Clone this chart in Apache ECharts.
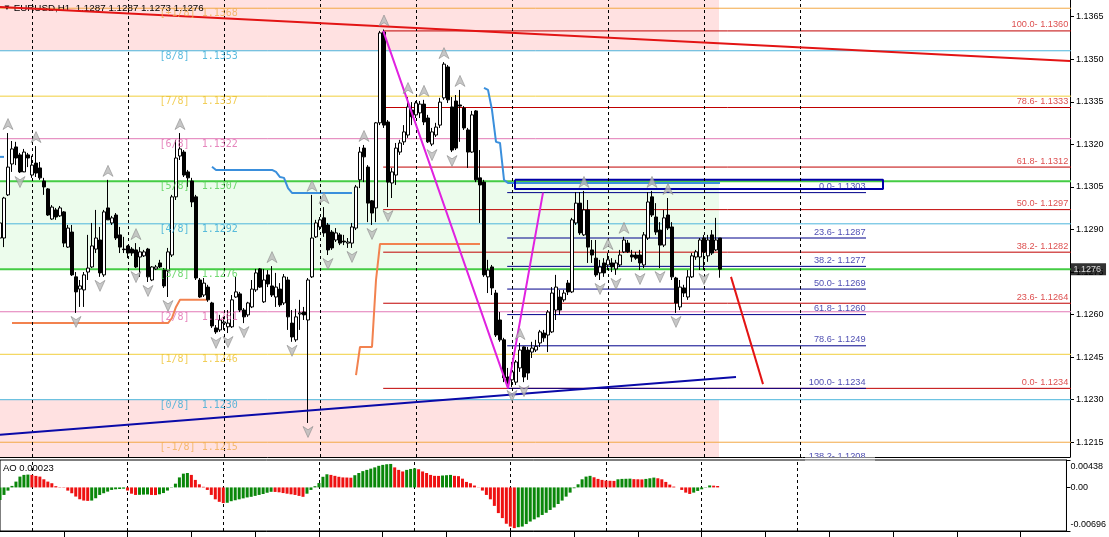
<!DOCTYPE html>
<html><head><meta charset="utf-8">
<script src="https://cdn.jsdelivr.net/npm/echarts@6/dist/echarts.min.js"></script>
<style>html,body{margin:0;padding:0;background:#fff}#c{width:1109px;height:537px}</style>
</head><body><div id="c"></div>
<script>
// ---------------- DATA ----------------
const symbolName = 'EURUSD,H1';
// one row per H1 bar: [open, close, low, high]
const candles = [
[1.12870,1.12923,1.12845,1.12941],[1.12870,1.13011,1.12838,1.13015],[1.13022,1.13120,1.13018,1.13240],[1.13131,1.13184,1.13103,1.13212],
[1.13191,1.13152,1.13127,1.13209],[1.13163,1.13103,1.13099,1.13170],[1.13103,1.13173,1.13105,1.13184],[1.13163,1.13152,1.13120,1.13170],
[1.13092,1.13127,1.13082,1.13160],[1.13134,1.13099,1.13085,1.13194],[1.13117,1.13082,1.13075,1.13138],[1.13071,1.13050,1.13022,1.13082],
[1.13043,1.12951,1.12948,1.13046],[1.12937,1.12979,1.12934,1.12986],[1.12969,1.12944,1.12934,1.12976],[1.12948,1.12976,1.12944,1.12983],
[1.12962,1.12852,1.12838,1.12965],[1.12838,1.12905,1.12835,1.12916],[1.12891,1.12740,1.12736,1.12916],[1.12733,1.12680,1.12606,1.12750],
[1.12690,1.12701,1.12627,1.12722],[1.12687,1.12740,1.12627,1.12750],[1.12750,1.12764,1.12722,1.12881],[1.12768,1.12842,1.12764,1.12923],
[1.12831,1.12870,1.12817,1.12969],[1.12863,1.12747,1.12733,1.12909],[1.12740,1.12962,1.12733,1.12969],[1.12976,1.12934,1.12934,1.13075],
[1.12923,1.12941,1.12916,1.12948],[1.12951,1.12870,1.12863,1.12958],[1.12881,1.12838,1.12817,1.12909],[1.12831,1.12829,1.12817,1.12874],
[1.12842,1.12817,1.12799,1.12845],[1.12831,1.12817,1.12807,1.12838],[1.12828,1.12768,1.12764,1.12852],[1.12803,1.12821,1.12733,1.12838],
[1.12807,1.12821,1.12803,1.12828],[1.12831,1.12733,1.12715,1.12835],[1.12722,1.12768,1.12718,1.12771],[1.12761,1.12768,1.12757,1.12775],
[1.12782,1.12768,1.12764,1.12793],[1.12757,1.12701,1.12694,1.12764],[1.12754,1.12821,1.12662,1.12835],[1.12810,1.13015,1.12803,1.13022],
[1.13015,1.13152,1.13004,1.13216],[1.13159,1.13184,1.13145,1.13240],[1.13173,1.13092,1.13085,1.13180],[1.13103,1.13082,1.13050,1.13110],
[1.13071,1.12997,1.12979,1.13082],[1.13015,1.12729,1.12722,1.13022],[1.12722,1.12662,1.12659,1.12729],[1.12669,1.12711,1.12662,1.12729],
[1.12697,1.12652,1.12645,1.12705],[1.12641,1.12560,1.12553,1.12645],[1.12553,1.12539,1.12532,1.12563],[1.12546,1.12581,1.12539,1.12599],
[1.12570,1.12574,1.12546,1.12592],[1.12557,1.12570,1.12535,1.12616],[1.12557,1.12652,1.12553,1.12669],[1.12662,1.12680,1.12659,1.12733],
[1.12673,1.12616,1.12609,1.12680],[1.12616,1.12592,1.12570,1.12623],[1.12599,1.12641,1.12592,1.12645],[1.12627,1.12690,1.12623,1.12722],
[1.12687,1.12747,1.12680,1.12761],[1.12761,1.12697,1.12694,1.12764],[1.12645,1.12722,1.12641,1.12761],[1.12740,1.12708,1.12697,1.12757],
[1.12701,1.12669,1.12662,1.12771],[1.12662,1.12697,1.12627,1.12747],[1.12690,1.12634,1.12627,1.12711],[1.12641,1.12733,1.12634,1.12743],
[1.12722,1.12592,1.12546,1.12733],[1.12570,1.12521,1.12504,1.12616],[1.12511,1.12592,1.12504,1.12620],[1.12602,1.12606,1.12546,1.12652],
[1.12609,1.12599,1.12581,1.12627],[1.12581,1.12722,1.12218,1.12729],[1.12733,1.12870,1.12729,1.13022],[1.12874,1.12923,1.12870,1.12934],
[1.12909,1.12934,1.12898,1.12944],[1.12941,1.12888,1.12874,1.12979],[1.12916,1.12828,1.12810,1.12923],[1.12891,1.12835,1.12828,1.12898],
[1.12863,1.12888,1.12856,1.12905],[1.12881,1.12852,1.12845,1.12888],[1.12859,1.12856,1.12845,1.12881],[1.12852,1.12856,1.12835,1.12870],
[1.12852,1.12909,1.12835,1.12923],[1.12905,1.13050,1.12898,1.13057],[1.13075,1.13173,1.13046,1.13191],[1.13187,1.13156,1.13067,1.13198],
[1.13120,1.12993,1.12926,1.13127],[1.13001,1.12958,1.12916,1.13004],[1.12976,1.13276,1.12926,1.13279],[1.13276,1.13593,1.13268,1.13600],
[1.13596,1.13268,1.13258,1.13605],[1.13279,1.13067,1.12979,1.13286],[1.13064,1.13103,1.13011,1.13117],[1.13092,1.13187,1.13057,1.13205],
[1.13173,1.13205,1.13163,1.13216],[1.13209,1.13244,1.13198,1.13268],[1.13233,1.13332,1.13223,1.13367],[1.13321,1.13297,1.13268,1.13349],
[1.13304,1.13346,1.13293,1.13353],[1.13311,1.13342,1.13293,1.13353],[1.13342,1.13279,1.13268,1.13357],[1.13293,1.13209,1.13205,1.13304],
[1.13201,1.13244,1.13194,1.13258],[1.13233,1.13261,1.13226,1.13276],[1.13268,1.13349,1.13258,1.13364],[1.13364,1.13483,1.13357,1.13490],
[1.13473,1.13357,1.13346,1.13480],[1.13332,1.13180,1.13173,1.13367],[1.13353,1.13187,1.13180,1.13374],[1.13339,1.13335,1.13209,1.13392],
[1.13328,1.13258,1.13251,1.13335],[1.13251,1.13173,1.13117,1.13258],[1.13173,1.13304,1.13170,1.13318],[1.13318,1.13075,1.13067,1.13321],
[1.13082,1.13057,1.12923,1.13180],[1.13067,1.12740,1.12733,1.13075],[1.12733,1.12757,1.12676,1.12793],[1.12768,1.12694,1.12669,1.12775],
[1.12676,1.12528,1.12521,1.12687],[1.12581,1.12511,1.12504,1.12609],[1.12511,1.12377,1.12362,1.12518],[1.12380,1.12359,1.12340,1.12412],
[1.12370,1.12398,1.12345,1.12433],[1.12362,1.12433,1.12352,1.12440],[1.12412,1.12475,1.12398,1.12500],[1.12486,1.12380,1.12362,1.12488],
[1.12475,1.12394,1.12370,1.12486],[1.12468,1.12482,1.12447,1.12504],[1.12475,1.12488,1.12468,1.12511],[1.12500,1.12539,1.12486,1.12546],
[1.12535,1.12518,1.12504,1.12546],[1.12528,1.12609,1.12468,1.12616],[1.12539,1.12676,1.12535,1.12697],[1.12616,1.12697,1.12581,1.12740],
[1.12662,1.12616,1.12599,1.12687],[1.12652,1.12676,1.12645,1.12687],[1.12711,1.12680,1.12669,1.12722],[1.12680,1.12934,1.12676,1.12941],
[1.12923,1.12993,1.12916,1.13032],[1.12993,1.12888,1.12881,1.13032],[1.12881,1.12969,1.12877,1.13036],[1.12969,1.12838,1.12782,1.13004],
[1.12828,1.12810,1.12782,1.12863],[1.12799,1.12740,1.12733,1.12863],[1.12747,1.12768,1.12722,1.12793],[1.12782,1.12747,1.12733,1.12799],
[1.12775,1.12793,1.12757,1.12817],[1.12782,1.12768,1.12750,1.12799],[1.12761,1.12782,1.12740,1.12793],[1.12775,1.12810,1.12768,1.12828],
[1.12821,1.12863,1.12817,1.12874],[1.12852,1.12821,1.12817,1.12863],[1.12810,1.12803,1.12786,1.12828],[1.12810,1.12799,1.12793,1.12821],
[1.12810,1.12782,1.12757,1.12828],[1.12775,1.12881,1.12764,1.12891],[1.12870,1.12997,1.12863,1.13032],[1.13015,1.12951,1.12944,1.13036],
[1.12944,1.12891,1.12881,1.12993],[1.12898,1.12845,1.12764,1.12926],[1.12845,1.12941,1.12838,1.12969],[1.12951,1.12905,1.12898,1.13011],
[1.12909,1.12733,1.12722,1.12926],[1.12729,1.12641,1.12606,1.12733],[1.12627,1.12697,1.12616,1.12722],[1.12694,1.12676,1.12662,1.12705],
[1.12662,1.12733,1.12652,1.12757],[1.12733,1.12807,1.12729,1.12817],[1.12803,1.12821,1.12793,1.12828],[1.12803,1.12863,1.12757,1.12870],
[1.12870,1.12821,1.12757,1.12881],[1.12807,1.12863,1.12786,1.12881],[1.12881,1.12817,1.12810,1.12898],[1.12828,1.12863,1.12824,1.12941],
[1.12870,1.12760,1.12730,1.12870]
];
// Awesome Oscillator, one value per bar
const ao = [
-0.00200,-0.00120,-0.00051,0.00024,0.00093,0.00173,0.00200,0.00205,0.00200,0.00184,
0.00173,0.00130,0.00093,0.00067,0.00020,0.00005,-0.00005,-0.00051,-0.00093,-0.00146,
-0.00189,-0.00210,-0.00215,-0.00210,-0.00173,-0.00120,-0.00093,-0.00067,-0.00040,-0.00030,
-0.00025,-0.00020,-0.00050,-0.00100,-0.00120,-0.00118,-0.00115,-0.00112,-0.00120,-0.00122,
-0.00110,-0.00090,-0.00050,0.00005,0.00060,0.00160,0.00220,0.00230,0.00200,0.00120,
0.00050,0.00010,-0.00040,-0.00120,-0.00190,-0.00230,-0.00250,-0.00245,-0.00220,-0.00205,
-0.00190,-0.00175,-0.00160,-0.00150,-0.00135,-0.00120,-0.00105,-0.00085,-0.00070,-0.00072,
-0.00078,-0.00090,-0.00100,-0.00110,-0.00120,-0.00135,-0.00150,-0.00100,-0.00040,0.00020,
0.00070,0.00170,0.00210,0.00200,0.00185,0.00170,0.00160,0.00158,0.00155,0.00195,
0.00230,0.00260,0.00280,0.00300,0.00320,0.00345,0.00360,0.00370,0.00375,0.00320,
0.00280,0.00255,0.00280,0.00295,0.00305,0.00290,0.00255,0.00230,0.00200,0.00185,
0.00184,0.00190,0.00195,0.00200,0.00185,0.00180,0.00140,0.00088,0.00067,0.00030,
0.00003,-0.00050,-0.00120,-0.00190,-0.00295,-0.00410,-0.00490,-0.00580,-0.00625,-0.00650,
-0.00635,-0.00625,-0.00585,-0.00545,-0.00510,-0.00478,-0.00440,-0.00405,-0.00360,-0.00320,
-0.00265,-0.00210,-0.00147,-0.00083,-0.00013,0.00050,0.00130,0.00173,0.00185,0.00162,
0.00136,0.00120,0.00109,0.00106,0.00104,0.00130,0.00136,0.00138,0.00140,0.00132,
0.00130,0.00128,0.00136,0.00146,0.00157,0.00146,0.00130,0.00088,0.00045,0.00013,
0.00000,-0.00040,-0.00083,-0.00104,-0.00083,-0.00056,-0.00030,-0.00005,0.00032,0.00028,
0.00023
];
const murreyNames  = ['[+1/8]','[8/8]','[7/8]','[6/8]','[5/8]','[4/8]','[3/8]','[2/8]','[1/8]','[0/8]','[-1/8]'];
const murreyValues = [1.1368,1.1353,1.1337,1.1322,1.1307,1.1292,1.1276,1.1261,1.1246,1.1230,1.1215];
const fibRedNames  = ['100.0','78.6','61.8','50.0','38.2','23.6','0.0'];
const fibRedValues = [1.1360,1.1333,1.1312,1.1297,1.1282,1.1264,1.1234];
const fibBlueNames  = ['0.0','23.6','38.2','50.0','61.8','78.6','100.0','138.2'];
const fibBlueValues = [1.1303,1.1287,1.1277,1.1269,1.1260,1.1249,1.1234,1.1208];
const priceTicks = [1.1215,1.1230,1.1245,1.1260,1.1275,1.1290,1.1305,1.1320,1.1335,1.1350,1.1365];
const aoTicks = [0.00438,0,-0.00696];
const dayLines = [8,32,56,80,104,128,152,176,200];
const hourTicks = [16,32,48,64,80,96,112,128,144,160,176,192,208,224,240,256];
const upFractals = [2,9,27,34,45,68,78,81,91,96,102,106,111,115,130,146,152,156,163,167];
const downFractals = [5,19,25,34,37,42,54,57,61,73,77,82,88,93,97,108,113,128,131,150,154,160,165,169,176];
// [bar, price] anchors of drawn objects
const trendRed = [[0,1.13684],[267.5,1.13494]];
const trendBlue = [[0,1.12176],[184,1.12380]];
const forecastRed = [[182.75,1.12733],[190.75,1.12355]];
const zigzag = [[95.8,1.1360],[127,1.1234],[135.75,1.1303]];
const fibRedSpan = [95.8,270];
const fibBlueSpan = [126.8,216.5];
const boxSpan = [[128.75,1.13075],[220.75,1.13043]];
const zoneEndBar = 179.75;
// stepped trailing lines: start bar + values
const blueTrail = [
 {from:0, values:[1.13156,1.13156]},
 {from:53, values:[1.13121,1.13110,1.13110,1.13110,1.13110,1.13110,1.13110,1.13110,1.13110,1.13110,1.13110,1.13110,1.13110,1.13110,1.13110,1.13110,
   1.13103,1.13085,1.13082,1.13046,1.13029,1.13029,1.13029,1.13029,1.13029,1.13029,1.13029,1.13029,1.13029,1.13029,1.13029,1.13029,1.13029,1.13029,1.13029,1.13029]},
 {from:121, values:[1.13399,1.13392,1.13321,1.13209,1.13205,1.13075,
   1.13064,1.13064,1.13064,1.13064,1.13064,1.13064,1.13064,1.13064,1.13064,1.13064,1.13064,1.13064,1.13064,1.13064,1.13064,1.13064,1.13064,1.13064,
   1.13064,1.13064,1.13064,1.13064,1.13064,1.13064,1.13064,1.13064,1.13064,1.13064,1.13064,1.13064,1.13064,1.13064,1.13064,1.13064,1.13064,1.13064,
   1.13064,1.13064,1.13064,1.13064,1.13064,1.13064,1.13064,1.13064,1.13064,1.13064,1.13064,1.13064,1.13064,1.13064,1.13064,1.13064,1.13064,1.13064]}
];
const orangeTrail = [
 {from:3, values:[1.12570,1.12570,1.12570,1.12570,1.12570,1.12570,1.12570,1.12570,1.12570,1.12570,1.12570,1.12570,1.12570,1.12570,1.12570,1.12570,
   1.12570,1.12570,1.12570,1.12570,1.12570,1.12570,1.12570,1.12570,1.12570,1.12570,1.12570,1.12570,1.12570,1.12570,1.12570,1.12570,1.12570,1.12570,
   1.12570,1.12570,1.12570,1.12570,1.12570,1.12570,1.12588,1.12627,1.12652,1.12652,1.12652,1.12652,1.12652,1.12652,1.12652,1.12652]},
 {from:89, values:[1.12387,1.12486,1.12486,1.12486,1.12486,1.12722,1.12849,1.12849,1.12849,1.12849,1.12849,1.12849,1.12849,1.12849,1.12849,1.12849,
   1.12849,1.12849,1.12849,1.12849,1.12849,1.12849,1.12849,1.12849,1.12849,1.12849,1.12849,1.12849,1.12849,1.12849,1.12849,1.12849]}
];

// ---------------- STYLE ----------------
const FONT = 'Liberation Sans';
const yMin = 1.12098, yMax = 1.13709, xMax = 267.5;
const aoMin = -0.00696, aoMax = 0.00438;
const murreyLine = ['#f3a845','#4cb5dc','#f1cf3d','#e279b6','#44cc44','#4cb5dc','#44cc44','#e279b6','#f1cf3d','#4cb5dc','#f3a845'];
const murreyText = ['#f2ae52','#33aad6','#edc22e','#e068ac','#4fd04f','#33aad6','#4fd04f','#e068ac','#edc22e','#33aad6','#f2ae52'];
const murreyWidth = [1,1,1,1,2,1,2,1,1,1,1];

const series = [];
const base = {silent:true, animation:false};
// zones
series.push(Object.assign({type:'line', xAxisIndex:0, yAxisIndex:0, data:[], z:0,
  markArea:{silent:true, animation:false, data:[
    [{coord:[-2, yMax], itemStyle:{color:'#ffe1e1'}}, {coord:[zoneEndBar, murreyValues[1]]}],
    [{coord:[-2, murreyValues[4]], itemStyle:{color:'#ecfcec'}}, {coord:[zoneEndBar, murreyValues[6]]}],
    [{coord:[-2, murreyValues[9]], itemStyle:{color:'#ffe1e1'}}, {coord:[zoneEndBar, yMin]}]
  ]}}, base));
// day separators
[[0,0],[1,1]].forEach(([xi, yi]) => series.push(Object.assign({type:'line', xAxisIndex:xi, yAxisIndex:yi, data:[], z:1,
  markLine:{silent:true, animation:false, symbol:['none','none'], label:{show:false},
    lineStyle:{color:'#000', type:[3,3], width:1}, data: dayLines.map(x => ({xAxis:x}))}}, base)));

function seg(points, color, width, z) {
  return Object.assign({type:'line', xAxisIndex:0, yAxisIndex:0, data:points, symbol:'none', z:z,
    lineStyle:{color:color, width:width}}, base);
}
murreyValues.forEach((v,k) => series.push(seg([[-2,v],[270,v]], murreyLine[k], murreyWidth[k], 2)));
fibRedValues.forEach(v => series.push(seg([[fibRedSpan[0],v],[fibRedSpan[1],v]], '#c00000', 1, 3)));
fibBlueValues.forEach(v => series.push(seg([[fibBlueSpan[0],v],[fibBlueSpan[1],v]], '#00008b', 1, 3)));
blueTrail.forEach(s => series.push(seg(s.values.map((v,k)=>[s.from+k, v]), '#3a8fdc', 2, 4)));
orangeTrail.forEach(s => series.push(seg(s.values.map((v,k)=>[s.from+k, v]), '#f2824f', 2, 4)));
series.push(seg([[boxSpan[0][0],boxSpan[0][1]],[boxSpan[1][0],boxSpan[0][1]],[boxSpan[1][0],boxSpan[1][1]],[boxSpan[0][0],boxSpan[1][1]],[boxSpan[0][0],boxSpan[0][1]]], '#0000a8', 2, 4));

series.push(Object.assign({type:'candlestick', xAxisIndex:0, yAxisIndex:0, z:5, barWidth:3,
  dimensions:['x','open','close','lowest','highest'], encode:{x:'x', y:['open','close','lowest','highest']},
  data: candles.map((c,i)=>[i, c[0], c[1], c[2], c[3]]),
  itemStyle:{color:'#ffffff', color0:'#000000', borderColor:'#000000', borderColor0:'#000000', borderWidth:1}}, base));

series.push(seg(trendRed, '#e31414', 2, 6));
series.push(seg(trendBlue, '#0a0aa8', 2, 6));
series.push(seg(forecastRed, '#e31414', 2, 6));
series.push(seg(zigzag, '#e022e0', 2, 6));

const upPath = 'path://M5,0 L10,10 L5,7 L0,10 Z';
const dnPath = 'path://M0,0 L5,3 L10,0 L5,10 Z';
series.push(Object.assign({type:'scatter', xAxisIndex:0, yAxisIndex:0, z:7, symbol:upPath, symbolSize:[10,11], symbolOffset:[0,-9],
  itemStyle:{color:'#b9b9b9', borderColor:'#858585', borderWidth:0.7}, data: upFractals.map(i=>[i, candles[i][3]])}, base));
series.push(Object.assign({type:'scatter', xAxisIndex:0, yAxisIndex:0, z:7, symbol:dnPath, symbolSize:[10,11], symbolOffset:[0,9],
  itemStyle:{color:'#b9b9b9', borderColor:'#858585', borderWidth:0.7}, data: downFractals.map(i=>[i, candles[i][2]])}, base));

function textSeries(items, labelBase, clip) {
  return Object.assign({type:'scatter', xAxisIndex:0, yAxisIndex:0, z:8, symbolSize:1, clip: clip,
    itemStyle:{color:'rgba(0,0,0,0)'}, label:Object.assign({show:true}, labelBase), data: items}, base);
}
series.push(textSeries(murreyValues.map((v,k)=>({value:[40,v], label:{color:murreyText[k], formatter: murreyNames[k].padEnd(7) + v.toFixed(4)}})),
  {position:[0,1], align:'left', verticalAlign:'top', fontFamily:'DejaVu Sans Mono', fontSize:10}, true));
series.push(textSeries(fibRedValues.map((v,k)=>({value:[267.2,v], label:{formatter: fibRedNames[k] + '- ' + v.toFixed(4)}})),
  {position:[0,-1], align:'right', verticalAlign:'bottom', fontFamily:FONT, fontSize:9.2, color:'#d42222'}, true));
series.push(textSeries(fibBlueValues.map((v,k)=>({value:[fibBlueSpan[1],v], label:{formatter: fibBlueNames[k] + '- ' + v.toFixed(4)}})),
  {position:[0,-1], align:'right', verticalAlign:'bottom', fontFamily:FONT, fontSize:9.2, color:'#1a1a9c'}, false));
const last = candles[candles.length-1];
series.push(textSeries([{value:[xMax, last[1]]}],
  {position:'right', distance:0, formatter: last[1].toFixed(4), backgroundColor:'#000', color:'#fff', padding:[2,5,1,3], fontFamily:FONT, fontSize:9}, false));

// AO histogram
series.push(Object.assign({type:'bar', xAxisIndex:1, yAxisIndex:1, z:5, barWidth:3,
  data: ao.map((v,i)=>({value:[i,v], itemStyle:{color: (i===0 || v>ao[i-1]) ? '#0a870a' : '#ee1111'}}))}, base));

const option = {
  animation:false,
  textStyle:{fontFamily:FONT},
  title:[
    {left:3, top:3, padding:0, text:'{t|▼} ' + symbolName + '  ' + [last[0], last[3], last[2], last[1]].map(v=>v.toFixed(4)).join(' '),
     textStyle:{fontSize:9.8, fontFamily:FONT, fontWeight:'normal', color:'#000', rich:{t:{fontSize:8, color:'#000'}}}},
    {left:3, top:463, padding:0, text:'AO ' + ao[ao.length-1].toFixed(5),
     textStyle:{fontSize:9.5, fontFamily:FONT, fontWeight:'normal', color:'#000'}}
  ],
  grid:[
    {left:0, top:0, width:1070, height:457, containLabel:false},
    {left:0, top:460, width:1070, height:71, containLabel:false, show:true, borderColor:'#000', borderWidth:1, backgroundColor:'rgba(0,0,0,0)'}
  ],
  xAxis:[
    {gridIndex:0, type:'value', min:0, max:xMax, axisLine:{show:true, onZero:false, lineStyle:{color:'#000'}}, axisTick:{show:false}, axisLabel:{show:false}, splitLine:{show:false}},
    {gridIndex:1, type:'value', min:0, max:xMax, position:'bottom', axisLine:{show:true, onZero:false, lineStyle:{color:'#000'}},
     axisTick:{show:true, customValues:hourTicks, length:6, inside:false, lineStyle:{color:'#000'}}, axisLabel:{show:false}, splitLine:{show:false}}
  ],
  yAxis:[
    {gridIndex:0, type:'value', position:'right', min:yMin, max:yMax, scale:true,
     axisLine:{show:true, onZero:false, lineStyle:{color:'#000'}},
     axisTick:{show:true, customValues:priceTicks, length:4, lineStyle:{color:'#000'}},
     axisLabel:{show:true, customValues:priceTicks, margin:6, color:'#000', fontSize:9, fontFamily:FONT, formatter:v=>v.toFixed(4)},
     splitLine:{show:false}},
    {gridIndex:1, type:'value', position:'right', min:aoMin, max:aoMax,
     axisLine:{show:true, onZero:false, lineStyle:{color:'#000'}},
     axisTick:{show:true, customValues:aoTicks, length:4, lineStyle:{color:'#000'}},
     axisLabel:{show:true, customValues:aoTicks, margin:4, color:'#000', fontSize:9, fontFamily:FONT,
       formatter:v => v > 0 ? '{top|' + v.toFixed(5) + '}' : (v < 0 ? '{bot|' + v.toFixed(5) + '}' : '{mid|' + v.toFixed(2) + '}'),
       rich:{top:{padding:[14,0,0,0], fontSize:9, fontFamily:FONT}, bot:{padding:[0,0,12,0], fontSize:9, fontFamily:FONT}, mid:{fontSize:9, fontFamily:FONT}}},
     splitLine:{show:false}}
  ],
  graphic:[
    {type:'rect', z:100, shape:{x:805, y:457.6, width:70, height:1.6}, style:{fill:'#fff'}},
    {type:'rect', z:100, shape:{x:805, y:460.6, width:70, height:4}, style:{fill:'#fff'}}
  ],
  series: series
};
const chart = echarts.init(document.getElementById('c'), null, {renderer:'canvas', devicePixelRatio:1});
chart.setOption(option);
</script>
</body></html>
